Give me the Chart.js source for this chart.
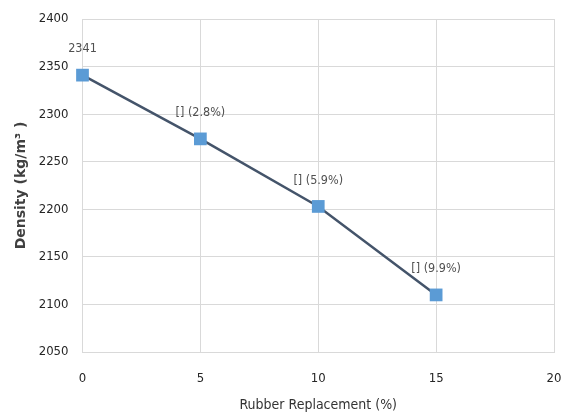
<!DOCTYPE html>
<html>
<head>
<meta charset="utf-8">
<script src="https://cdn.jsdelivr.net/npm/chart.js@4"></script>
<style>
  html, body { margin: 0; padding: 0; background: #ffffff; }
  #wrap { width: 571px; height: 414px; }
</style>
</head>
<body>
<div id="wrap"><canvas id="chart"></canvas></div>
<script>
// Chart data
const replacement = [0, 5, 10, 15];
const density = [2341, 2274, 2203, 2110];
const pointLabels = ['2341', '[] (2.8%)', '[] (5.9%)', '[] (9.9%)'];

const narrowFont = "'Liberation Sans Narrow', 'DejaVu Sans Condensed', sans-serif";
const gridColor = '#d9d9d9';

// Draws the text above each point
const pointLabelPlugin = {
    id: 'pointLabels',
    afterDatasetsDraw(chart) {
        const ctx = chart.ctx;
        const meta = chart.getDatasetMeta(0);
        ctx.save();
        ctx.font = '12.5px ' + narrowFont;
        ctx.fillStyle = '#505050';
        ctx.textAlign = 'center';
        ctx.textBaseline = 'middle';
        meta.data.forEach((pt, i) => {
            ctx.fillText(pointLabels[i], pt.x, pt.y - 26);
        });
        ctx.restore();
    }
};

const config = {
    type: 'line',
    data: {
        datasets: [{
            data: replacement.map((x, i) => ({ x: x, y: density[i] })),
            borderColor: '#44546a',
            borderWidth: 2.5,
            backgroundColor: '#5b9bd5',
            pointBackgroundColor: '#5b9bd5',
            pointBorderColor: '#5b9bd5',
            pointStyle: 'rect',
            pointRadius: 9,
            pointBorderWidth: 0,
            tension: 0,
            clip: false
        }]
    },
    options: {
        responsive: true,
        maintainAspectRatio: false,
        animation: false,
        layout: { padding: { top: 19, right: 17, bottom: 0, left: 0 } },
        plugins: {
            legend: { display: false },
            tooltip: { enabled: false }
        },
        scales: {
            x: {
                type: 'linear',
                min: 0,
                max: 20,
                ticks: {
                    stepSize: 5, padding: 19, color: '#262626',
                    font: { family: narrowFont, size: 13 },
                    callback: (v) => String(v)
                },
                grid: { color: gridColor, drawTicks: false },
                border: { color: gridColor },
                title: {
                    display: true,
                    text: 'Rubber Replacement (%)',
                    color: '#333333',
                    font: { family: narrowFont, size: 14 },
                    padding: { top: 1, bottom: 0 }
                },
                afterFit(scale) {
                    scale.height = 62;
                    scale.paddingLeft = 0;
                    scale.paddingRight = 0;
                }
            },
            y: {
                min: 2050,
                max: 2400,
                ticks: {
                    stepSize: 50, padding: 14, color: '#262626',
                    font: { family: narrowFont, size: 13 },
                    callback: (v) => String(v)
                },
                grid: { color: gridColor, drawTicks: false },
                border: { color: gridColor },
                title: {
                    display: true,
                    text: 'Density (kg/m³ )',
                    color: '#404040',
                    font: { family: "'DejaVu Sans', sans-serif", size: 14, weight: 'bold' },
                    padding: { top: 13, bottom: 0 }
                },
                afterFit(scale) {
                    scale.width = 82.5;
                    scale.paddingTop = 0;
                    scale.paddingBottom = 0;
                }
            }
        }
    },
    plugins: [pointLabelPlugin]
};

const densityChart = new Chart(document.getElementById('chart'), config);
</script>
</body>
</html>
